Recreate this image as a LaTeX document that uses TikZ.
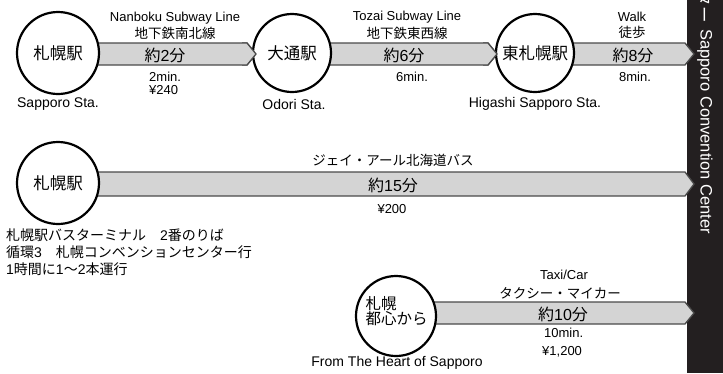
\documentclass[tikz,border=0pt]{standalone}
\usepackage{fontspec}
\setmainfont{Liberation Sans}
\newfontfamily\jpf{Noto Sans CJK JP}
\usetikzlibrary{calc}
\definecolor{bandgray}{HTML}{D4D4D4}
\definecolor{bandline}{HTML}{4A4A4A}
\definecolor{barblack}{HTML}{231F20}
\newcommand\J[1]{{\jpf #1}}
% full band: from source node centre to tip coordinate, half height #3
\newcommand\bandbody[3]{%
  \path[bandfill,bandedge] let \p1=(#1.center), \p2=(#2) in
    (\x1,\y2+#3) -- (\x2-9pt,\y2+#3) -- (\x2,\y2) -- (\x2-9pt,\y2-#3) -- (\x1,\y2-#3) -- cycle;}
% redraw the arrow point on top of the target circle
\newcommand\bandtip[2]{%
  \fill[bandgray] let \p2=(#1) in
    (\x2-14pt,\y2+#2) -- (\x2-9pt,\y2+#2) -- (\x2,\y2) -- (\x2-9pt,\y2-#2) -- (\x2-14pt,\y2-#2) -- cycle;
  \draw[bandedge] let \p2=(#1) in
    (\x2-14pt,\y2+#2) -- (\x2-9pt,\y2+#2) -- (\x2,\y2) -- (\x2-9pt,\y2-#2) -- (\x2-14pt,\y2-#2);}
\begin{document}
\begin{tikzpicture}[x=1pt,y=-1pt,
  stn/.style={circle,draw=black,line width=2.2pt,fill=white,inner sep=0pt,
    font=\jpf\fontsize{16.5}{18}\selectfont},
  lbl/.style={inner sep=0pt,font=\fontsize{13}{15}\selectfont},
  stlbl/.style={inner sep=0pt,font=\fontsize{14}{16}\selectfont},
  jlbl/.style={inner sep=0pt,font=\jpf\fontsize{13.5}{15}\selectfont},
  big/.style={inner sep=0pt,font=\fontsize{16}{18}\selectfont},
  bandfill/.style={fill=bandgray},
  bandedge/.style={draw=bandline,line width=1.3pt,line join=miter},
  bartext/.style={rotate=-90,inner sep=0pt,text=white},
]
\useasboundingbox (0,0) rectangle (723,373);

% black side bar
\fill[barblack] (687,0) rectangle (723,373);
\node[bartext,anchor=west,font=\fontsize{16.5}{18}\selectfont] (barlat) at (705,29) {Sapporo Convention Center};
\node[bartext,anchor=east,font=\jpf\fontsize{16.5}{18}\selectfont] (barjp) at (705,23) {ター};

% tip coordinates
\coordinate (t1) at (256,54);
\coordinate (t2) at (497,54);
\coordinate (t3) at (694,54);
\coordinate (t4) at (694,184);
\coordinate (t5) at (694,313);

% station positions
\coordinate (c1) at (58,53);
\coordinate (c2) at (292,53);
\coordinate (c3) at (535,53);
\coordinate (c4) at (58,183);
\coordinate (c5) at (396,316);

% bands
\bandbody{c1}{t1}{11pt}
\bandbody{c2}{t2}{11pt}
\bandbody{c3}{t3}{11pt}
\bandbody{c4}{t4}{12pt}
\bandbody{c5}{t5}{11pt}

% stations
\node[stn,minimum size=82pt] (s1) at (c1) {札幌駅};
\node[stn,minimum size=78pt] (s2) at (c2) {大通駅};
\node[stn,minimum size=78pt] (s3) at (c3) {東札幌駅};
\node[stn,minimum size=82pt] (s4) at (c4) {札幌駅};
\node[stn,minimum size=80pt] (s5) at (c5) {};
\node[inner sep=0pt,align=left,font=\jpf\fontsize{15.5}{14.5}\selectfont] (s5t) at (396.5,311) {札幌\\都心から};

% arrow points over next circle
\bandtip{t1}{11pt}
\bandtip{t2}{11pt}

% row 1 labels
\node[lbl] (n1a) at (175,18) {Nanboku Subway Line};
\node[jlbl] (n1b) at (175,33) {地下鉄南北線};
\node[big] (n1c) at (165,55) {\J{約}2\J{分}};
\node[lbl,anchor=west] (n1d) at (149,77) {2min.};
\node[lbl,anchor=west] (n1e) at (149,90) {¥240};
\node[stlbl] (st1) at (58,104) {Sapporo Sta.};

\node[lbl] (n2a) at (407,17) {Tozai Subway Line};
\node[jlbl] (n2b) at (407,33) {地下鉄東西線};
\node[big] (n2c) at (404,55) {\J{約}6\J{分}};
\node[lbl] (n2d) at (412,77) {6min.};
\node[stlbl] (st2) at (294,104) {Odori Sta.};

\node[lbl] (n3a) at (632,17) {Walk};
\node[jlbl] (n3b) at (632,32) {徒歩};
\node[big] (n3c) at (633,55) {\J{約}8\J{分}};
\node[lbl] (n3d) at (635,77) {8min.};
\node[stlbl] (st3) at (535,104) {Higashi Sapporo Sta.};

% row 2 labels
\node[jlbl] (n4a) at (393,160) {ジェイ・アール北海道バス};
\node[big] (n4c) at (393,185) {\J{約}15\J{分}};
\node[lbl] (n4d) at (392,209) {¥200};
\node[inner sep=0pt,anchor=west,align=left,font=\fontsize{14}{17}\selectfont] (n4e) at (6,252)
  {\J{札幌駅バスターミナル　}2\J{番のりば}\\
   \J{循環}3\J{　札幌コンベンションセンター行}\\
   1\J{時間に}1\J{～}2\J{本運行}};

% row 3 labels
\node[lbl] (n5a) at (564,275) {Taxi/Car};
\node[jlbl] (n5b) at (560,293) {タクシー・マイカー};
\node[big] (n5c) at (563,314) {\J{約}10\J{分}};
\node[lbl,anchor=west] (n5d) at (544,333) {10min.};
\node[lbl,anchor=west] (n5e) at (542,352) {¥1,200};
\node[stlbl] (st5) at (397,363) {From The Heart of Sapporo};
\end{tikzpicture}
\end{document}
